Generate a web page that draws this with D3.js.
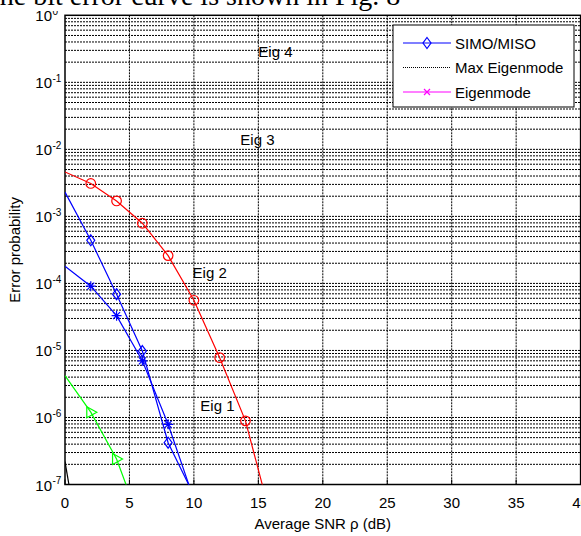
<!DOCTYPE html>
<html>
<head>
<meta charset="utf-8">
<script src="https://cdn.jsdelivr.net/npm/d3@7"></script>
<style>
  body { margin: 0; background: #fff; }
  svg { display: block; font-family: Arial, "Liberation Sans", sans-serif; }
</style>
</head>
<body>
<svg width="581" height="536"></svg>
<script>
// values (SNR in dB, error probability)
const snrRed = [0, 2, 4, 6, 8, 10, 12, 14, 16];
const probRed = [4.6e-3, 3.1e-3, 1.7e-3, 7.9e-4, 2.6e-4, 5.6e-5, 7.8e-6, 8.9e-7, 3.1e-8];

const snrBlue = [0, 2, 4, 6, 8, 10];
const probDiamond = [2.3e-3, 4.4e-4, 6.9e-5, 9.8e-6, 4.2e-7, 6.9e-8];
const probStar = [1.8e-4, 9.1e-5, 3.3e-5, 7.0e-6, 7.9e-7, 6.0e-8];

const snrGreen = [0, 2, 4, 6];
const probGreen = [4.2e-6, 1.2e-6, 2.4e-7, 2.2e-8];

const snrBlack = [0, 2];
const probBlack = [2.2e-7, 1.2e-9];

const xTicks = [0, 5, 10, 15, 20, 25, 30, 35, 40];
const yDecades = [0, -1, -2, -3, -4, -5, -6, -7];

const legendNames = ["SIMO/MISO", "Max Eigenmode", "Eigenmode"];

// annotation labels: [text, snr, prob]
const eigLabels = [
  ["Eig 4", 15.0, 0.24],
  ["Eig 3", 13.6, 0.0116],
  ["Eig 2", 9.9, 1.2e-4],
  ["Eig 1", 10.5, 1.25e-6]
];

const svg = d3.select("svg");

const x = d3.scaleLinear().domain([0, 40]).range([65, 580.6]);
const y = d3.scaleLog().domain([1e-7, 1]).range([484.5, 15.3]);

// grid
const grid = svg.append("g").attr("stroke", "#000").attr("stroke-width", 1)
  .attr("stroke-dasharray", "2,1");
xTicks.slice(1, -1).forEach(v => {
  grid.append("line").attr("x1", x(v)).attr("x2", x(v))
    .attr("y1", y(1)).attr("y2", y(1e-7));
});
for (let d = -7; d < 0; d++) {
  for (let k = 1; k <= 9; k++) {
    if (d === -7 && k === 1) continue;
    const v = k * Math.pow(10, d);
    grid.append("line").attr("x1", x(0)).attr("x2", x(40))
      .attr("y1", y(v)).attr("y2", y(v));
  }
}

// frame
svg.append("rect")
  .attr("x", x(0)).attr("y", y(1))
  .attr("width", x(40) - x(0)).attr("height", y(1e-7) - y(1))
  .attr("fill", "none").attr("stroke", "#000").attr("stroke-width", 1.5);

// x tick marks and labels
xTicks.forEach(v => {
  svg.append("line").attr("x1", x(v)).attr("x2", x(v))
    .attr("y1", y(1e-7)).attr("y2", y(1e-7) - 5).attr("stroke", "#000");
  svg.append("text").attr("x", x(v)).attr("y", 508)
    .attr("text-anchor", "middle").attr("font-size", 15).text(v);
});

// y labels 10^k
yDecades.forEach(d => {
  const yy = y(Math.pow(10, d));
  svg.append("text").attr("x", 52).attr("y", yy + 6)
    .attr("text-anchor", "end").attr("font-size", 15).text("10");
  svg.append("text").attr("x", 52.5).attr("y", yy - 0.5)
    .attr("font-size", 10).text(d);
});

// paper text cut off at the top (covers the top of the 10^0 label)
svg.append("rect").attr("x", 0).attr("y", 0).attr("width", 400).attr("height", 11)
  .attr("fill", "#fff");
svg.append("text")
  .attr("x", -8).attr("y", 5)
  .attr("font-family", "'Liberation Serif', 'Times New Roman', serif")
  .attr("font-size", 28)
  .text("the bit error curve is shown in Fig. 8");

// axis titles
svg.append("text").attr("x", (x(0) + x(40)) / 2).attr("y", 529)
  .attr("text-anchor", "middle").attr("font-size", 15).text("Average SNR ρ (dB)");
svg.append("text")
  .attr("transform", `translate(20,${(y(1) + y(1e-7)) / 2}) rotate(-90)`)
  .attr("text-anchor", "middle").attr("font-size", 15).text("Error probability");

// clip for curves
svg.append("clipPath").attr("id", "plotclip").append("rect")
  .attr("x", x(0)).attr("y", y(1))
  .attr("width", x(40) - x(0)).attr("height", y(1e-7) - y(1));

const plot = svg.append("g").attr("clip-path", "url(#plotclip)");
const line = d3.line().x(d => x(d[0])).y(d => y(d[1]));

const series = [
  {xs: snrRed, ys: probRed, color: "#ff0000", marker: "circle"},
  {xs: snrBlue, ys: probDiamond, color: "#0000ff", marker: "diamond"},
  {xs: snrBlue, ys: probStar, color: "#0000ff", marker: "star"},
  {xs: snrGreen, ys: probGreen, color: "#00ff00", marker: "triangle"},
  {xs: snrBlack, ys: probBlack, color: "#000000", marker: null}
];

function drawMarker(g, type, cx, cy, color) {
  if (type === "circle") {
    g.append("circle").attr("cx", cx).attr("cy", cy).attr("r", 4.8)
      .attr("fill", "none").attr("stroke", color).attr("stroke-width", 1.2);
  } else if (type === "diamond") {
    g.append("path").attr("d", `M${cx},${cy - 5.5}L${cx + 4},${cy}L${cx},${cy + 5.5}L${cx - 4},${cy}Z`)
      .attr("fill", "none").attr("stroke", color).attr("stroke-width", 1.2);
  } else if (type === "star") {
    const r = 5;
    g.append("path")
      .attr("d", `M${cx - r},${cy}H${cx + r}M${cx},${cy - r}V${cy + r}` +
        `M${cx - r * 0.7},${cy - r * 0.7}L${cx + r * 0.7},${cy + r * 0.7}` +
        `M${cx - r * 0.7},${cy + r * 0.7}L${cx + r * 0.7},${cy - r * 0.7}`)
      .attr("stroke", color).attr("stroke-width", 1.2);
  } else if (type === "x") {
    const r = 3;
    g.append("path")
      .attr("d", `M${cx - r},${cy - r}L${cx + r},${cy + r}M${cx - r},${cy + r}L${cx + r},${cy - r}`)
      .attr("stroke", color).attr("stroke-width", 1.2);
  } else if (type === "triangle") {
    g.append("path").attr("d", `M${cx + 6},${cy}L${cx - 4},${cy - 5.5}L${cx - 4},${cy + 5.5}Z`)
      .attr("fill", "none").attr("stroke", color).attr("stroke-width", 1.2);
  }
}

series.forEach(s => {
  const pts = s.xs.map((v, i) => [v, s.ys[i]]);
  plot.append("path").attr("d", line(pts))
    .attr("fill", "none").attr("stroke", s.color).attr("stroke-width", 1.2);
  if (s.marker) {
    pts.filter(p => p[0] > 0).forEach(p => drawMarker(plot, s.marker, x(p[0]), y(p[1]), s.color));
  }
});

// Eig annotations
eigLabels.forEach(l => {
  svg.append("text").attr("x", x(l[1])).attr("y", y(l[2]))
    .attr("font-size", 15).text(l[0]);
});

// legend
const lg = svg.append("g");
lg.append("rect").attr("x", 393).attr("y", 25).attr("width", 181).attr("height", 82)
  .attr("fill", "#fff").attr("stroke", "#000").attr("stroke-width", 1);
const legendStyle = [
  {color: "#0000ff", marker: "diamond", dash: null},
  {color: "#000000", marker: null, dash: "1,1"},
  {color: "#ff00ff", marker: "x", dash: null}
];
legendNames.forEach((name, i) => {
  const yy = 43 + i * 24.5;
  const st = legendStyle[i];
  lg.append("line").attr("x1", 403).attr("x2", 451).attr("y1", yy).attr("y2", yy)
    .attr("stroke", st.color).attr("stroke-width", 1.2)
    .attr("stroke-dasharray", st.dash);
  if (st.marker) drawMarker(lg, st.marker, 427, yy, st.color);
  lg.append("text").attr("x", 455).attr("y", yy + 5.5).attr("font-size", 15).text(name);
});
</script>
</body>
</html>
